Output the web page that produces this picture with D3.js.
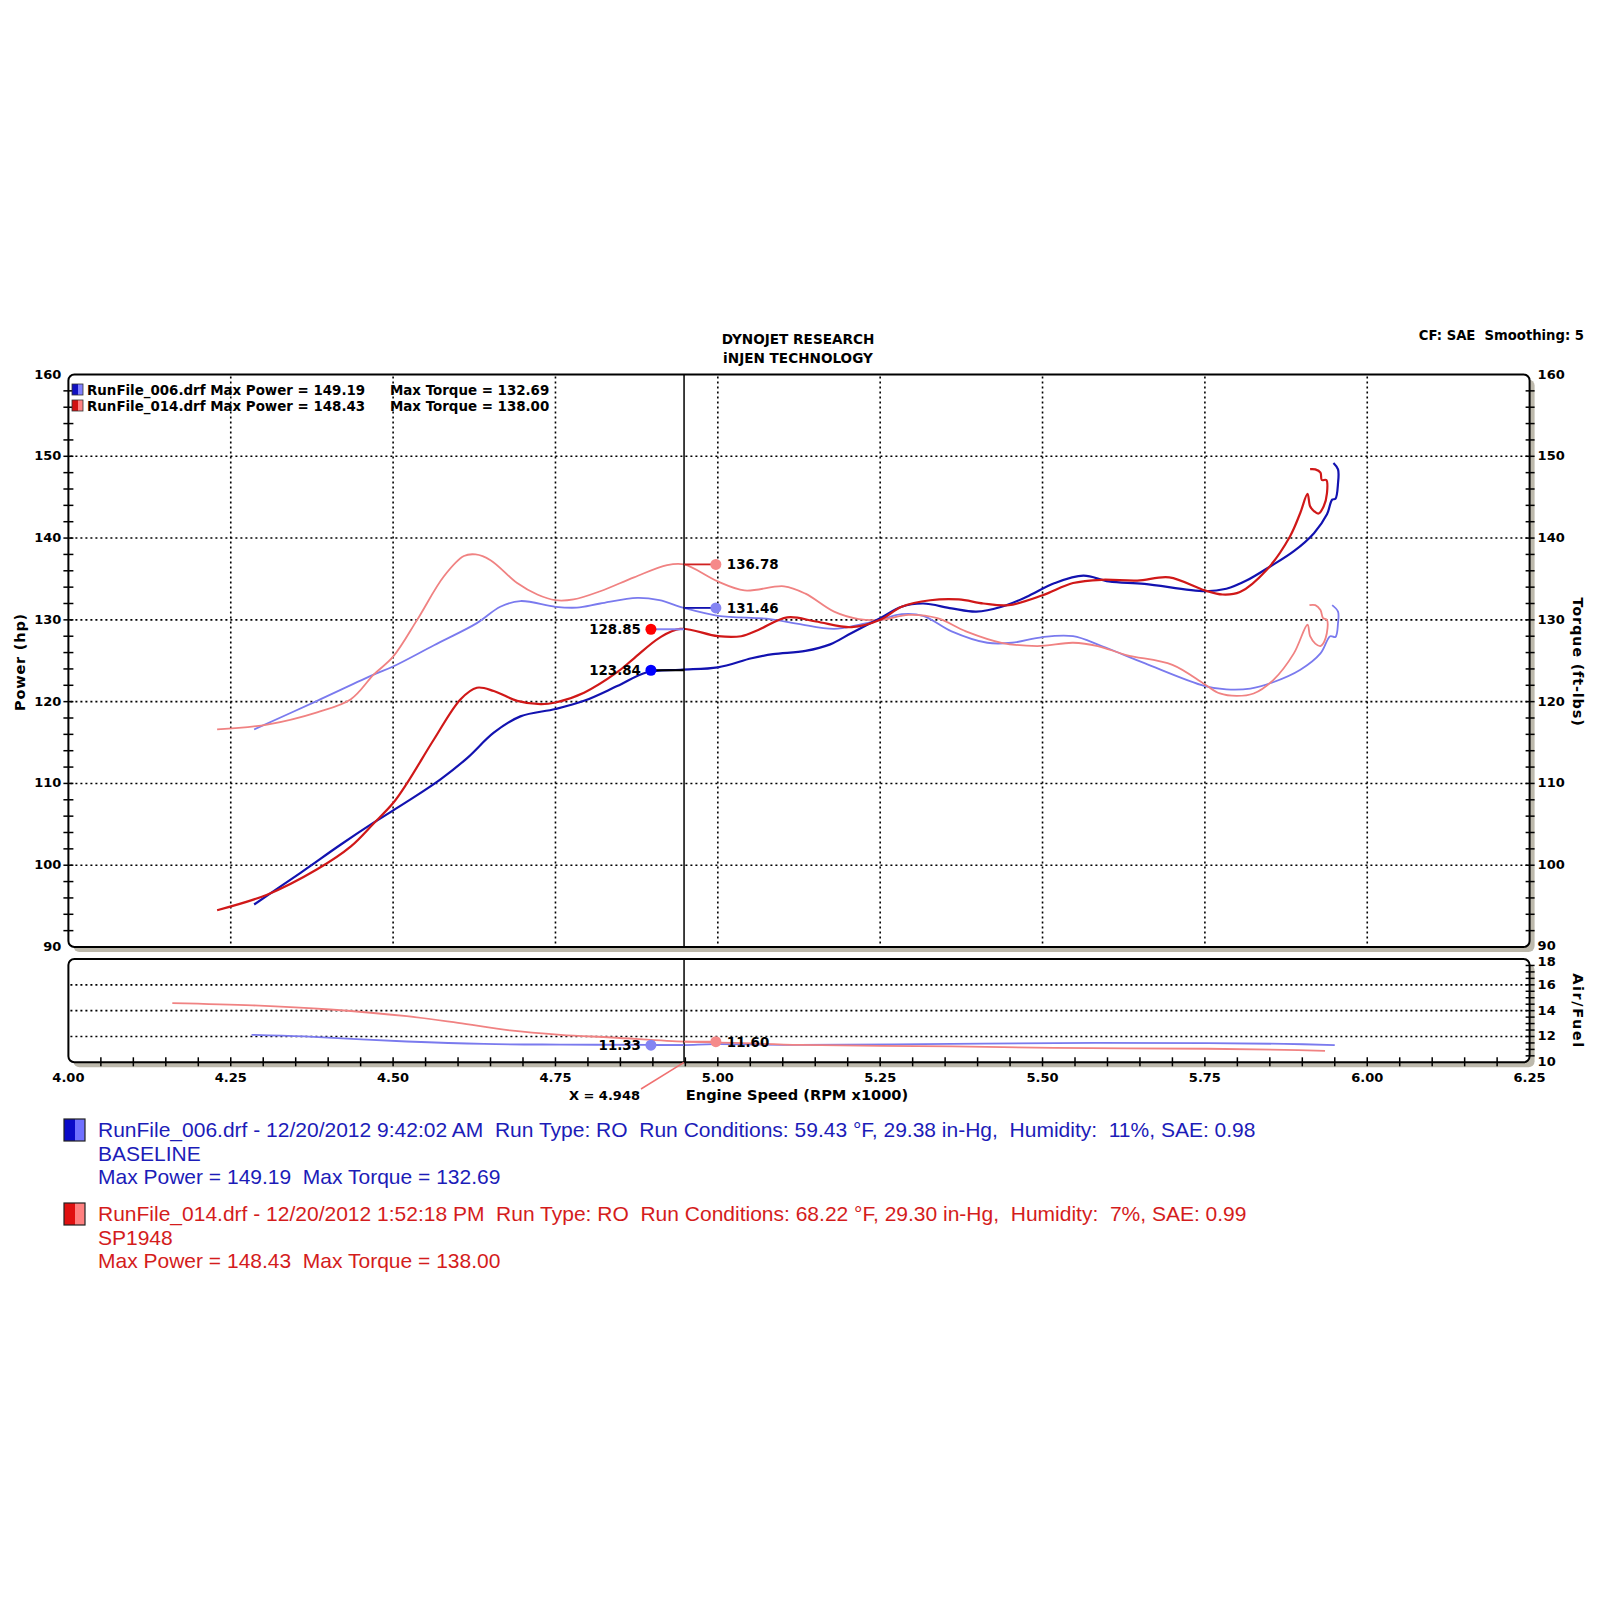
<!DOCTYPE html>
<html><head><meta charset="utf-8">
<script src="https://cdn.jsdelivr.net/npm/d3@7"></script>
<style>body{margin:0;background:#fff}svg{display:block}text{white-space:pre}</style>
</head><body><svg id="c" width="1600" height="1600"></svg>
<script>
// ---- data (rpm x1000, value) ----
const bluePower = [[4.286,95.2],[4.358,99.1],[4.419,102.5],[4.47,105.2],[4.522,107.8],[4.573,110.5],[4.614,113.1],[4.655,116.2],[4.696,118.2],[4.75,119.1],[4.794,120.1],[4.845,121.9],[4.891,123.6],[4.942,123.9],[5.0,124.2],[5.052,125.3],[5.085,125.8],[5.135,126.2],[5.173,127.0],[5.206,128.4],[5.25,130.2],[5.283,131.6],[5.316,132.0],[5.36,131.4],[5.398,131.0],[5.437,131.6],[5.475,132.8],[5.519,134.5],[5.563,135.4],[5.602,134.7],[5.657,134.4],[5.75,133.5],[5.783,133.8],[5.814,134.8],[5.85,136.5],[5.887,138.4],[5.918,140.6],[5.938,142.9],[5.946,144.7],[5.951,144.8],[5.955,146.7],[5.955,148.4],[5.948,149.19]];
const redPower = [[4.229,94.5],[4.306,96.4],[4.383,99.5],[4.435,102.3],[4.47,105.1],[4.5,107.6],[4.522,110.1],[4.563,115.4],[4.604,120.3],[4.629,121.7],[4.655,121.3],[4.691,120.1],[4.727,119.7],[4.75,119.9],[4.794,121.1],[4.845,123.6],[4.871,125.3],[4.91,127.8],[4.942,128.9],[5.0,128.0],[5.036,128.0],[5.063,128.8],[5.107,130.3],[5.151,129.8],[5.206,129.1],[5.25,130.0],[5.283,131.6],[5.327,132.4],[5.371,132.5],[5.409,132.0],[5.448,131.8],[5.5,133.0],[5.547,134.5],[5.591,134.9],[5.646,134.8],[5.695,135.2],[5.75,133.6],[5.777,133.1],[5.804,133.4],[5.845,136.1],[5.881,140.2],[5.897,143.1],[5.908,145.4],[5.912,143.9],[5.918,143.3],[5.925,143.0],[5.933,143.9],[5.938,145.5],[5.937,147.1],[5.93,147.1],[5.928,148.0],[5.92,148.4],[5.912,148.43]];
const redTorque = [[4.229,116.6],[4.306,117.2],[4.383,118.7],[4.435,120.3],[4.47,123.3],[4.5,125.5],[4.537,130.0],[4.578,135.3],[4.609,137.8],[4.627,138.0],[4.65,137.3],[4.691,134.5],[4.722,133.1],[4.75,132.4],[4.778,132.5],[4.819,133.5],[4.871,135.2],[4.922,136.7],[4.948,136.78],[5.0,134.7],[5.041,133.6],[5.102,134.1],[5.135,133.2],[5.179,131.0],[5.217,130.1],[5.25,130.0],[5.294,130.6],[5.338,130.2],[5.382,128.6],[5.437,127.2],[5.492,126.8],[5.547,127.2],[5.585,126.8],[5.629,125.7],[5.7,124.5],[5.75,122.1],[5.773,121.0],[5.799,120.7],[5.825,121.0],[5.856,122.7],[5.887,125.9],[5.908,129.4],[5.912,128.0],[5.92,127.1],[5.928,126.8],[5.936,127.8],[5.938,130.0],[5.932,130.2],[5.928,131.2],[5.92,131.8],[5.911,131.8]];
const blueTorque = [[4.286,116.6],[4.383,120.1],[4.47,123.3],[4.5,124.3],[4.563,126.9],[4.629,129.6],[4.665,131.6],[4.696,132.3],[4.75,131.6],[4.783,131.5],[4.819,132.0],[4.876,132.69],[4.91,132.4],[4.948,131.46],[5.0,130.5],[5.08,130.1],[5.124,129.5],[5.179,128.9],[5.217,129.4],[5.25,130.0],[5.283,130.7],[5.316,130.5],[5.36,128.6],[5.415,127.2],[5.453,127.2],[5.5,127.9],[5.547,128.0],[5.591,126.8],[5.657,124.7],[5.75,121.9],[5.783,121.5],[5.82,121.6],[5.856,122.4],[5.897,123.9],[5.928,125.9],[5.943,128.0],[5.951,127.9],[5.955,129.6],[5.955,131.0],[5.946,131.8]];
const redAfr = [[4.16,14.59],[4.284,14.41],[4.403,14.09],[4.521,13.57],[4.60,13.05],[4.68,12.47],[4.758,12.13],[4.837,11.92],[4.948,11.6],[4.995,11.55],[5.128,11.35],[5.361,11.23],[5.518,11.12],[5.754,11.05],[5.872,10.97],[5.935,10.89]];
const blueAfr = [[4.282,12.13],[4.363,12.0],[4.521,11.61],[4.64,11.42],[4.758,11.37],[4.896,11.35],[4.948,11.33],[4.995,11.40],[5.124,11.35],[5.361,11.43],[5.582,11.51],[5.754,11.48],[5.872,11.43],[5.95,11.33]];
const cursorX = 4.948;
const powerMarkX = 4.897, torqueMarkX = 4.997;
const cursorValues = {redPower:128.85, bluePower:123.84, redTorque:136.78, blueTorque:131.46, blueAfr:11.33, redAfr:11.60};
const xTicks = [4.00,4.25,4.50,4.75,5.00,5.25,5.50,5.75,6.00,6.25];
const yTicks = [90,100,110,120,130,140,150,160];
const afrTicks = [10,12,14,16,18];
const legendTop = [
  {txt:"RunFile_006.drf Max Power = 149.19", tq:"Max Torque = 132.69", c1:"#1010c0", c2:"#8080ff"},
  {txt:"RunFile_014.drf Max Power = 148.43", tq:"Max Torque = 138.00", c1:"#d01010", c2:"#ff8080"}];
const legendBottom = [
  {lines:["RunFile_006.drf - 12/20/2012 9:42:02 AM  Run Type: RO  Run Conditions: 59.43 °F, 29.38 in-Hg,  Humidity:  11%, SAE: 0.98","BASELINE","Max Power = 149.19  Max Torque = 132.69"], color:"#1c1cb8", c1:"#0a0ac8", c2:"#7070ff"},
  {lines:["RunFile_014.drf - 12/20/2012 1:52:18 PM  Run Type: RO  Run Conditions: 68.22 °F, 29.30 in-Hg,  Humidity:  7%, SAE: 0.99","SP1948","Max Power = 148.43  Max Torque = 138.00"], color:"#d41c1c", c1:"#e01010", c2:"#ff8080"}];

// ---- layout ----
const svg = d3.select("#c");
const X0 = 68.4, X1 = 1529.6;
const MT = 374.5, MB = 947, AT = 959, AB = 1062.3;
const x = d3.scaleLinear([4,6.25],[X0,X1]);
const y = d3.scaleLinear([90,160],[MB,MT]);
const ya = d3.scaleLinear([10,18],[AB,AT]);
const F = "DejaVu Sans, Verdana, sans-serif";
const shadow = "#bdb9ac";

function panel(top, bottom){
  svg.append("rect").attr("x",X0+5).attr("y",top+5).attr("width",X1-X0).attr("height",bottom-top)
    .attr("rx",6).attr("fill",shadow);
  svg.append("rect").attr("x",X0).attr("y",top).attr("width",X1-X0).attr("height",bottom-top)
    .attr("rx",6).attr("fill","#fff").attr("stroke","#000").attr("stroke-width",2);
}
panel(MT,MB); panel(AT,AB);

const dot = "2,3";
svg.append("g").selectAll("line").data(xTicks.slice(1,-1)).join("line")
  .attr("x1",d=>x(d)).attr("x2",d=>x(d)).attr("y1",MT+2).attr("y2",MB-2)
  .attr("stroke","#000").attr("stroke-width",1.6).attr("stroke-dasharray",dot);
svg.append("g").selectAll("line").data(yTicks.slice(1,-1)).join("line")
  .attr("x1",X0+2).attr("x2",X1-2).attr("y1",d=>y(d)).attr("y2",d=>y(d))
  .attr("stroke","#000").attr("stroke-width",1.6).attr("stroke-dasharray",dot);
svg.append("g").selectAll("line").data([12,14,16]).join("line")
  .attr("x1",X0+2).attr("x2",X1-2).attr("y1",d=>ya(d)).attr("y2",d=>ya(d))
  .attr("stroke","#000").attr("stroke-width",1.6).attr("stroke-dasharray",dot);

const minorY = d3.range(92,160,2);
svg.append("g").selectAll("line").data(minorY).join("line")
  .attr("x1",X0-5).attr("x2",X0+5).attr("y1",d=>y(d)).attr("y2",d=>y(d)).attr("stroke","#000").attr("stroke-width",1.5);
svg.append("g").selectAll("line").data(minorY).join("line")
  .attr("x1",X1-4).attr("x2",X1+5).attr("y1",d=>y(d)).attr("y2",d=>y(d)).attr("stroke","#000").attr("stroke-width",1.5);
svg.append("g").selectAll("line").data(d3.range(10.5,18,0.5)).join("line")
  .attr("x1",X1-4).attr("x2",X1+5).attr("y1",d=>ya(d)).attr("y2",d=>ya(d)).attr("stroke","#000").attr("stroke-width",1.5);
svg.append("g").selectAll("line").data(d3.range(1,45).map(i=>4+i*0.05)).join("line")
  .attr("x1",d=>x(d)).attr("x2",d=>x(d)).attr("y1",AB-5).attr("y2",AB+4).attr("stroke","#000").attr("stroke-width",1.5);

const lab = (g,s)=>g.attr("font-family",F).attr("font-weight","bold").attr("font-size",s||13).attr("fill","#000");
svg.append("g").call(lab).selectAll("text").data(yTicks).join("text")
  .attr("x",X0-7).attr("y",d=>y(d)+4).attr("text-anchor","end").text(d=>d);
svg.append("g").call(lab).selectAll("text").data(yTicks).join("text")
  .attr("x",X1+8).attr("y",d=>y(d)+(d===90?3:4)).text(d=>d);
svg.append("g").call(lab).selectAll("text").data(afrTicks).join("text")
  .attr("x",X1+8).attr("y",d=>ya(d)+(d===18?7:4)).text(d=>d);
svg.append("g").call(lab).selectAll("text").data(xTicks).join("text")
  .attr("x",d=>x(d)).attr("y",AB+20).attr("text-anchor","middle").text(d=>d.toFixed(2));

const T = (xx,yy,t,anchor,rot,size,ls)=>{const e=svg.append("text").call(lab,size).attr("x",xx).attr("y",yy).attr("text-anchor",anchor||"start").text(t); if(rot) e.attr("transform",`rotate(${rot},${xx},${yy})`); if(ls) e.attr("letter-spacing",ls); return e;};
T(798,344,"DYNOJET RESEARCH","middle",0,13.6);
T(798,363,"iNJEN TECHNOLOGY","middle",0,13.6);
T(1584,340,"CF: SAE  Smoothing: 5","end",0,13.2);
T(25,662,"Power (hp)","middle",-90,14.5,0.8);
T(1573,662,"Torque (ft-lbs)","middle",90,14.5,0.8);
T(1573,1011,"Air/Fuel","middle",90,14.5,1.6);
T(797,1100,"Engine Speed (RPM x1000)","middle",0,14.6);
T(640,1100,"X = 4.948","end");
svg.append("line").attr("x1",x(cursorX)).attr("y1",AB).attr("x2",641).attr("y2",1089).attr("stroke","#f07070").attr("stroke-width",1.5);

legendTop.forEach((d,i)=>{
  const yy = 390 + i*16;
  svg.append("rect").attr("x",72).attr("y",yy-6).attr("width",6).attr("height",11).attr("fill",d.c1);
  svg.append("rect").attr("x",78).attr("y",yy-6).attr("width",5).attr("height",11).attr("fill",d.c2);
  svg.append("rect").attr("x",72).attr("y",yy-6).attr("width",11).attr("height",11).attr("fill","none").attr("stroke","#333").attr("stroke-width",0.8);
  T(87,yy+5,d.txt,"start",0,13.4); T(390,yy+5,d.tq,"start",0,13.4);
});

const line = (sy)=>d3.line().x(d=>x(d[0])).y(d=>sy(d[1])).curve(d3.curveCatmullRom.alpha(0.5));
const draw = (data,sy,color,w)=>svg.append("path").datum(data).attr("d",line(sy)).attr("fill","none").attr("stroke",color).attr("stroke-width",w).attr("stroke-linejoin","round");
draw(blueTorque,y,"#7a7aee",1.8);
draw(redTorque,y,"#f08282",1.8);
draw(bluePower,y,"#1212b0",2.2);
draw(redPower,y,"#d01818",2.2);
draw(blueAfr,ya,"#7a7aee",1.8);
draw(redAfr,ya,"#f08282",1.8);

svg.append("line").attr("x1",x(cursorX)).attr("x2",x(cursorX)).attr("y1",MT).attr("y2",MB).attr("stroke","#000").attr("stroke-width",1.5);
svg.append("line").attr("x1",x(cursorX)).attr("x2",x(cursorX)).attr("y1",AT).attr("y2",AB).attr("stroke","#000").attr("stroke-width",1.5);

const marks = [
  {v:cursorValues.redTorque, mx:torqueMarkX, sy:y, line:"#d02020", fill:"#f58a8a", side:"r"},
  {v:cursorValues.blueTorque, mx:torqueMarkX, sy:y, line:"#1212b0", fill:"#8484f2", side:"r"},
  {v:cursorValues.redPower, mx:powerMarkX, sy:y, line:"#8484f2", fill:"#ff0000", side:"l"},
  {v:cursorValues.bluePower, mx:powerMarkX, sy:y, line:"#000", fill:"#0000ff", side:"l"},
  {v:cursorValues.blueAfr, mx:powerMarkX, sy:ya, line:"#7a7aee", fill:"#8484f2", side:"l"},
  {v:cursorValues.redAfr, mx:torqueMarkX, sy:ya, line:"#f08282", fill:"#f58a8a", side:"r"}];
marks.forEach(m=>{
  const yy = m.sy(m.v);
  svg.append("line").attr("x1",x(cursorX)).attr("x2",x(m.mx)).attr("y1",yy).attr("y2",yy).attr("stroke",m.line).attr("stroke-width",1.8);
  svg.append("circle").attr("cx",x(m.mx)).attr("cy",yy).attr("r",5.5).attr("fill",m.fill);
  if(m.side==="r") T(x(m.mx)+11,yy+5,m.v.toFixed(2),"start",0,13.4);
  else T(x(m.mx)-10,yy+5,m.v.toFixed(2),"end",0,13.4);
});

legendBottom.forEach((d,i)=>{
  const y0 = 1130 + i*84;
  svg.append("rect").attr("x",64).attr("y",y0-11).attr("width",11).attr("height",22).attr("fill",d.c1);
  svg.append("rect").attr("x",75).attr("y",y0-11).attr("width",10).attr("height",22).attr("fill",d.c2);
  svg.append("rect").attr("x",64).attr("y",y0-11).attr("width",21).attr("height",22).attr("fill","none").attr("stroke","#222").attr("stroke-width",1.2);
  d.lines.forEach((t,j)=>{
    svg.append("text").attr("x",98).attr("y",y0+7+j*23.5).attr("font-family","Liberation Sans, Arial, sans-serif")
      .attr("font-size",21).attr("fill",d.color).text(t);
  });
});
</script></body></html>
